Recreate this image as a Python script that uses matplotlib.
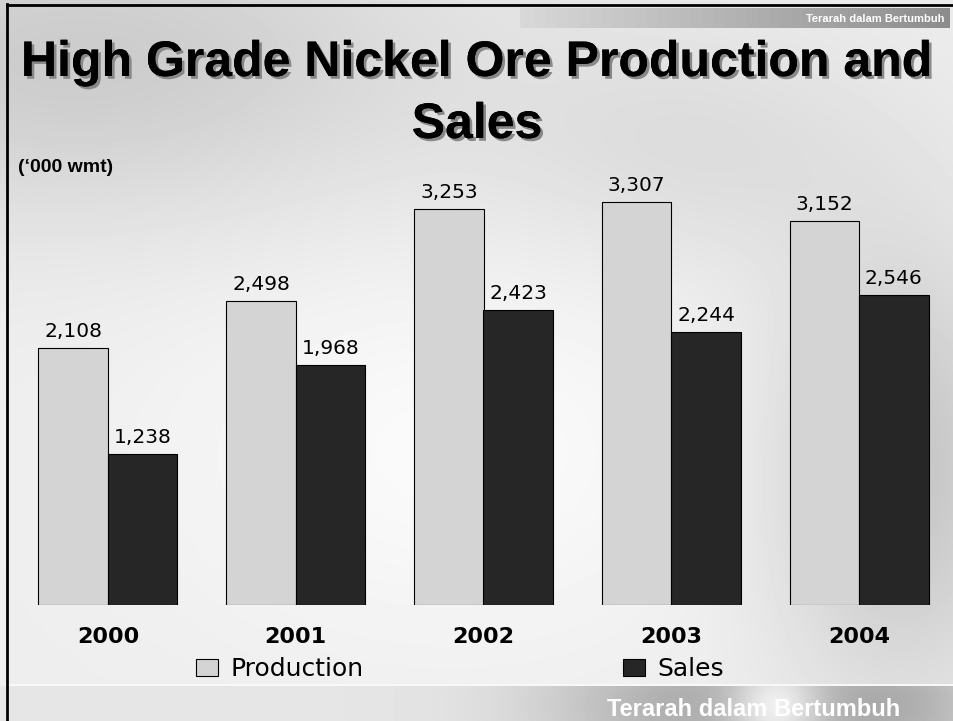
import matplotlib.pyplot as plt
import matplotlib.patheffects as pe
from matplotlib.lines import Line2D
import numpy as np

years = ['2000', '2001', '2002', '2003', '2004']
production = [2108, 2498, 3253, 3307, 3152]
sales = [1238, 1968, 2423, 2244, 2546]

W, H = 954, 721
fig = plt.figure(figsize=(W / 100, H / 100), dpi=100)

# slide background (soft grey photo look)
yy, xx = np.mgrid[0:H, 0:W].astype(float)


def blob(cx, cy, rx, ry):
    return np.exp(-(((xx - cx) / rx) ** 2 + ((yy - cy) / ry) ** 2))


bg = 0.93 + 0.05 * blob(450, 450, 300, 200)
bg -= 0.13 * blob(80, 60, 380, 160)
bg -= 0.16 * blob(900, 470, 130, 220)
bg -= 0.06 * blob(700, 150, 200, 120)
band = yy > 685
bandval = 0.90 - 0.22 * blob(700, 705, 160, 80) - 0.18 * blob(900, 705, 100, 80) \
    + 0.25 * blob(775, 705, 45, 40)
bg[band] = bandval[band]
bg[684:686, 5:] = 0.97
bg = np.clip(bg, 0, 1)

bax = fig.add_axes([0, 0, 1, 1], zorder=-10)
bax.imshow(bg, cmap='gray', vmin=0, vmax=1, aspect='auto', extent=(0, W, H, 0))
# top banner strip
strip = np.tile(np.linspace(0.85, 0.55, 430), (20, 1))
bax.imshow(strip, cmap='gray', vmin=0, vmax=1, aspect='auto', extent=(520, 950, 28, 8))
bax.set_xlim(0, W)
bax.set_ylim(H, 0)
bax.axis('off')

# frame lines of the slide
fig.add_artist(Line2D([7 / W, 7 / W], [0, 1 - 4 / H], color='black', lw=2))
fig.add_artist(Line2D([7 / W, 1], [1 - 5 / H, 1 - 5 / H], color='black', lw=2))

# chart
ax = fig.add_axes([14 / W, 116 / H, 939 / W, 425 / H])
ax.patch.set_alpha(0)
x = np.arange(len(years))
w = 0.37
b1 = ax.bar(x - w / 2, production, w, color='#d4d4d4', edgecolor='black', lw=0.8,
            label='Production')
b2 = ax.bar(x + w / 2, sales, w, color='#262626', edgecolor='black', lw=0.8,
            label='Sales')
for bars, vals in ((b1, production), (b2, sales)):
    for r, v in zip(bars, vals):
        ax.annotate(f'{v:,}', (r.get_x() + r.get_width() / 2, v), xytext=(0, 5),
                    textcoords='offset points', ha='center', va='bottom',
                    fontsize=14.5, family='DejaVu Sans')

ax.set_xlim(-0.5, 4.5)
ax.set_ylim(0, 3489)
ax.set_xticks(x, years, fontsize=16, fontweight='bold', family='DejaVu Sans')
ax.tick_params(axis='x', length=0, pad=16)
ax.set_yticks([])
for s in ax.spines.values():
    s.set_visible(False)

fig.legend(handles=[b1, b2], loc='center', bbox_to_anchor=(460 / W, 52 / H), ncol=2,
           frameon=False, fontsize=18, handlelength=0.85, handleheight=0.65,
           handletextpad=0.5, columnspacing=10.4)

# title
shadow = [pe.withSimplePatchShadow(offset=(2, -2), shadow_rgbFace='#888888', alpha=1),
          pe.Normal()]
fig.text(0.5, 1 - 76 / H, 'High Grade Nickel Ore Production and', ha='center',
         va='baseline', fontsize=36, fontweight='bold', family='Liberation Sans',
         path_effects=shadow)
fig.text(0.5, 1 - 138 / H, 'Sales', ha='center', va='baseline', fontsize=36,
         fontweight='bold', family='Liberation Sans', path_effects=shadow)
fig.text(18 / W, 1 - 172 / H, '(‘000 wmt)', ha='left', va='baseline', fontsize=14,
         fontweight='bold', family='Liberation Sans')

# banner texts
fig.text(945 / W, 1 - 22 / H, 'Terarah dalam Bertumbuh', ha='right', va='baseline',
         fontsize=8, fontweight='bold', color='white', family='Liberation Sans')
fig.text(900 / W, 1 - 716 / H, 'Terarah dalam Bertumbuh', ha='right', va='baseline',
         fontsize=17, fontweight='bold', color='white', family='Liberation Sans')

fig.savefig('out.png', dpi=100)
